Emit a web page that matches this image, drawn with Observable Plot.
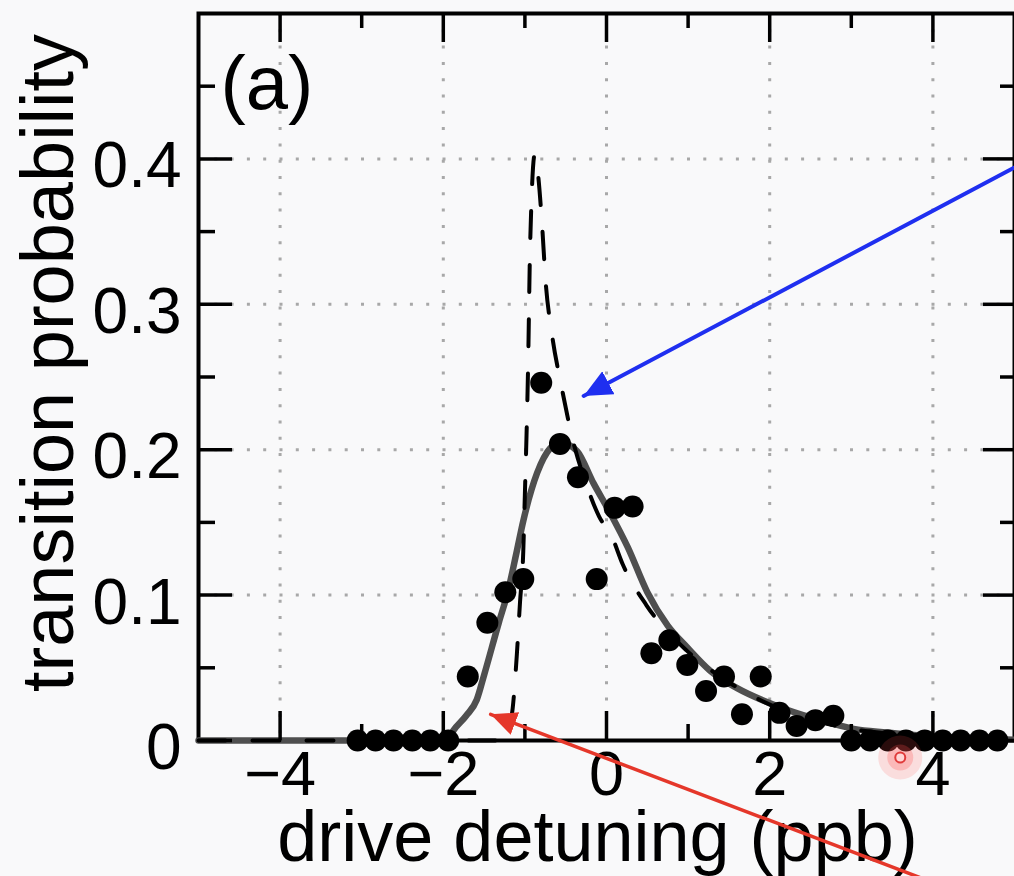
<!DOCTYPE html>
<html><head><meta charset="utf-8">
<script src="https://cdn.jsdelivr.net/npm/d3@7"></script>
<script src="https://cdn.jsdelivr.net/npm/@observablehq/plot@0.6"></script>
<style>
html,body{margin:0;padding:0;background:#f9f9fa;}
#chart svg{display:block;}
</style></head><body><div id="chart"></div>
<script>
// measured data points
const pointX = [-3.05,-2.83,-2.61,-2.38,-2.16,-1.94,-1.70,-1.46,-1.24,-1.02,-0.80,-0.57,-0.35,-0.12,0.10,0.32,0.55,0.77,0.99,1.22,1.44,1.66,1.89,2.12,2.33,2.56,2.78,3.00,3.23,3.45,3.67,3.90,4.12,4.34,4.57,4.79];
const pointY = [0,0,0,0,0,0,0.044,0.081,0.102,0.111,0.246,0.204,0.181,0.111,0.160,0.161,0.060,0.069,0.052,0.034,0.044,0.018,0.044,0.019,0.010,0.014,0.017,0,0,0,0,0,0,0,0,0];
// fitted curve (solid gray)
const fitX = [-5,-1.95,-1.875,-1.72,-1.59,-1.50,-1.32,-1.21,-1.10,-1.02,-0.85,-0.69,-0.56,-0.36,-0.16,0.05,0.26,0.50,0.75,0.99,1.27,1.60,1.92,2.22,2.62,3.03,3.44,3.85,4.4,5.0];
const fitY = [0,0,0.007,0.017,0.028,0.045,0.081,0.102,0.130,0.151,0.184,0.201,0.205,0.199,0.177,0.156,0.133,0.102,0.079,0.064,0.048,0.036,0.0275,0.021,0.014,0.008,0.0055,0.0034,0.0015,0.0005];
// model curve (dashed black)
const modelX = [-5,-1.25,-1.21,-1.15,-1.10,-1.06,-1.02,-1.00,-0.98,-0.96,-0.94,-0.92,-0.88,-0.84,-0.79,-0.745,-0.67,-0.55,-0.41,-0.24,-0.09,0.06,0.20,0.49,0.98,1.50,2.20,3.00,4.00,5.00];
const modelY = [0,0,0.007,0.022,0.058,0.095,0.130,0.170,0.210,0.260,0.330,0.370,0.403,0.390,0.355,0.315,0.280,0.243,0.206,0.175,0.154,0.141,0.121,0.093,0.062,0.040,0.020,0.008,0.003,0.001];
// ticks
const xMajorTicks = [-4,-2,0,2,4];
const xMinorTicks = [-3,-1,1,3];
const yMajorTicks = [0,0.1,0.2,0.3,0.4];
const yMinorTicks = [0.05,0.15,0.25,0.35,0.45];
// texts
const xLabel = "drive detuning (ppb)";
const yLabel = "transition probability";
const panelLabel = "(a)";
// annotations
const blueArrowX = [5.1, -0.28];
const blueArrowY = [0.397, 0.237];
const redArrowX = [3.97, -1.42];
const redArrowY = [-0.097, 0.018];
const cursorX = [3.6];
const cursorY = [-0.0117];

const points = pointX.map((x,i)=>({x, y: pointY[i]}));
const fit = fitX.map((x,i)=>({x, y: fitY[i]}));
const model = modelX.map((x,i)=>({x, y: modelY[i]}));
const blueArrow = blueArrowX.map((x,i)=>({x, y: blueArrowY[i]}));
const redArrow = redArrowX.map((x,i)=>({x, y: redArrowY[i]}));
const cursor = cursorX.map((x,i)=>({x, y: cursorY[i]}));

function filledHead(len, half) {
  return (color) => {
    const ns = "http://www.w3.org/2000/svg";
    const m = document.createElementNS(ns, "marker");
    m.setAttribute("viewBox", `${-len} ${-half} ${len} ${2*half}`);
    m.setAttribute("markerUnits", "userSpaceOnUse");
    m.setAttribute("markerWidth", len);
    m.setAttribute("markerHeight", 2*half);
    m.setAttribute("refX", 0);
    m.setAttribute("refY", 0);
    m.setAttribute("orient", "auto");
    const p = document.createElementNS(ns, "path");
    p.setAttribute("d", `M0,0L${-len},${-half}L${-len},${half}Z`);
    p.setAttribute("fill", color);
    p.setAttribute("stroke", "none");
    m.appendChild(p);
    return m;
  };
}

const W = 1014, H = 876, mL = 198, mR = 0, mT = 13, mB = 136;
const pw = W - mL - mR, ph = H - mT - mB;
const font = "'Liberation Sans', Arial, Helvetica, sans-serif";
const gridStyle = {stroke: "#a8a8a8", strokeOpacity: 1, strokeWidth: 3, strokeDasharray: "3,13.3"};
const tickStyle = {stroke: "black", strokeWidth: 3.5};

const chart = Plot.plot({
  width: W, height: H,
  marginLeft: mL, marginRight: mR, marginTop: mT, marginBottom: mB,
  style: {background: "#f9f9fa", fontFamily: font, color: "black", overflow: "visible"},
  x: {domain: [-5, 5]},
  y: {domain: [0, 0.5]},
  marks: [
    Plot.gridX({ticks: xMajorTicks, ...gridStyle}),
    Plot.gridY({ticks: yMajorTicks.filter(d => d > 0), ...gridStyle}),
    Plot.frame({stroke: "black", strokeWidth: 4}),
    Plot.line(fit, {x: "x", y: "y", stroke: "#4f4f4f", strokeWidth: 6.5, curve: "monotone-x"}),
    Plot.line(model, {x: "x", y: "y", stroke: "black", strokeWidth: 4, strokeDasharray: "27,27", curve: "monotone-x"}),
    Plot.dot(points, {x: "x", y: "y", r: 11, fill: "black"}),
    // inward ticks
    Plot.tickX(xMajorTicks, {x: d => d, insetTop: ph - 29, ...tickStyle}),
    Plot.tickX(xMajorTicks, {x: d => d, insetBottom: ph - 29, ...tickStyle}),
    Plot.tickX(xMinorTicks, {x: d => d, insetTop: ph - 16, ...tickStyle}),
    Plot.tickX(xMinorTicks, {x: d => d, insetBottom: ph - 15, ...tickStyle}),
    Plot.tickY(yMajorTicks, {y: d => d, insetRight: pw - 34, ...tickStyle}),
    Plot.tickY(yMajorTicks, {y: d => d, insetLeft: pw - 31, ...tickStyle}),
    Plot.tickY(yMinorTicks, {y: d => d, insetRight: pw - 17, ...tickStyle}),
    Plot.tickY(yMinorTicks, {y: d => d, insetLeft: pw - 14, ...tickStyle}),
    // tick labels
    Plot.axisX({ticks: xMajorTicks, tickSize: 0, tickPadding: 10, fontSize: 63, label: null,
      tickFormat: d => d < 0 ? "\u2212" + Math.abs(d) : String(d)}),
    Plot.axisY({ticks: yMajorTicks, tickSize: 0, tickPadding: 17, fontSize: 64, label: null, dy: 8,
      tickFormat: d => d === 0 ? "0" : d.toFixed(1)}),
    // axis titles
    Plot.text([xLabel], {text: d => d, frameAnchor: "bottom", dx: -9, dy: 120, lineAnchor: "bottom", textAnchor: "middle", fontSize: 72, fill: "black"}),
    Plot.text([yLabel], {text: d => d, frameAnchor: "left", dx: -126, dy: -14, rotate: -90, lineAnchor: "bottom", textAnchor: "middle", fontSize: 74, fill: "black"}),
    Plot.text([panelLabel], {text: d => d, frameAnchor: "top-left", dx: 22, dy: 95, textAnchor: "start", lineAnchor: "bottom", fontSize: 76, fill: "black"}),
    // annotations
    Plot.line(blueArrow, {x: "x", y: "y", stroke: "#1f2ff0", strokeWidth: 4, markerEnd: filledHead(28, 13)}),
    Plot.line(redArrow, {x: "x", y: "y", stroke: "#e5372a", strokeWidth: 3.5, markerEnd: filledHead(26, 12)}),
    Plot.dot(cursor, {x: "x", y: "y", r: 22, fill: "#ff4a4a", fillOpacity: 0.16}),
    Plot.dot(cursor, {x: "x", y: "y", r: 13, fill: "#ff4a4a", fillOpacity: 0.25}),
    Plot.dot(cursor, {x: "x", y: "y", r: 5, fill: "#ffd6d6", stroke: "#e03a3a", strokeWidth: 2})
  ]
});
document.getElementById("chart").appendChild(chart);
</script>
</body></html>
